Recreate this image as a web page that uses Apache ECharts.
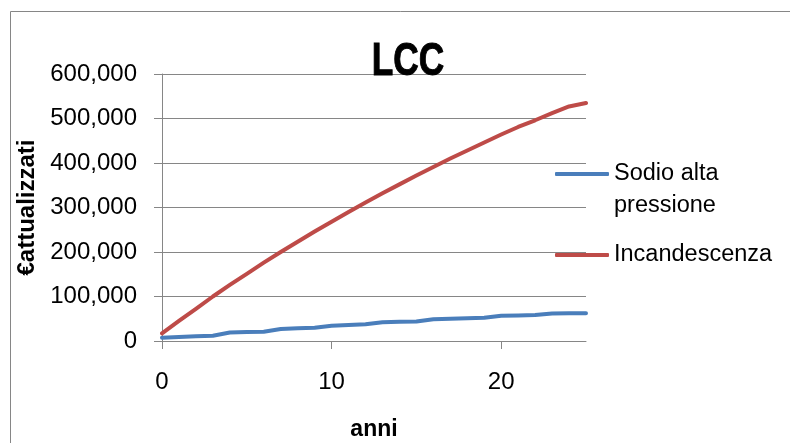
<!DOCTYPE html>
<html>
<head>
<meta charset="utf-8">
<script src="https://cdn.jsdelivr.net/npm/echarts@6/dist/echarts.min.js"></script>
<style>
  html, body { margin: 0; padding: 0; background: #fff; }
  #chart { width: 790px; height: 443px; }
</style>
</head>
<body>
<div id="chart"></div>
<script>
// anni 0..25
const years = [0, 1, 2, 3, 4, 5, 6, 7, 8, 9, 10, 11, 12, 13, 14, 15, 16, 17, 18, 19, 20, 21, 22, 23, 24, 25];

// € attualizzati
const sodio = [7500, 9000, 10500, 12000, 19000, 20000, 21000, 27000, 28500, 30000, 34500, 36000, 37500,
  42000, 43000, 44000, 49000, 50000, 51000, 52000, 56500, 57500, 58500, 62000, 62300, 62500];
const incandescenza = [17000, 45000, 72000, 100000, 126000, 151000, 176000, 200000, 223000, 246000, 268000,
  290000, 311000, 332000, 352000, 372000, 391000, 410000, 428000, 446000, 464000, 481000, 496000, 512000,
  527000, 535000];

const xTicks = [0, 10, 20];

const FONT = 'Liberation Sans, Arial, sans-serif';
const GRID_COLOR = '#868686';

const chart = echarts.init(document.getElementById('chart'));

function pairs(ys) {
  return years.map((x, i) => [x, ys[i]]);
}

chart.setOption({
  animation: false,
  backgroundColor: '#fff',
  textStyle: { fontFamily: FONT },
  graphic: [
    {
      type: 'rect',
      shape: { x: 10.5, y: 11.5, width: 900, height: 600 },
      style: { fill: 'none', stroke: GRID_COLOR, lineWidth: 1 },
      silent: true
    },
    {
      type: 'text',
      x: 408,
      y: 62,
      scaleX: 0.75,
      z: 10,
      style: {
        text: 'LCC',
        font: 'bold 47px ' + FONT,
        fill: '#000',
        stroke: '#000',
        lineWidth: 1,
        textAlign: 'center',
        textVerticalAlign: 'middle'
      }
    }
  ],
  legend: [
    {
      data: ['Sodio alta pressione'],
      left: 555,
      top: 126,
      padding: 0,
      icon: 'roundRect',
      itemWidth: 54,
      itemHeight: 4,
      itemGap: 0,
      // blank first line keeps the icon level with "Sodio alta"
      formatter: () => '\nSodio alta\npressione',
      textStyle: {
        fontSize: 23.5,
        color: '#000',
        lineHeight: 32
      }
    },
    {
      data: ['Incandescenza'],
      left: 555,
      top: 243,
      padding: 0,
      icon: 'roundRect',
      itemWidth: 54,
      itemHeight: 4,
      textStyle: {
        fontSize: 23.5,
        color: '#000',
        lineHeight: 24
      }
    }
  ],
  grid: {
    left: 162,
    top: 74,
    right: 204,
    bottom: 102,
    containLabel: false,
    outerBoundsMode: 'none'
  },
  xAxis: {
    type: 'value',
    min: 0,
    max: 25,
    interval: 10,
    name: 'anni',
    nameLocation: 'middle',
    nameGap: 77,
    nameTextStyle: { fontSize: 23, fontWeight: 'bold', color: '#000' },
    axisLine: { lineStyle: { color: GRID_COLOR, width: 1 } },
    axisTick: {
      show: true,
      length: 8,
      customValues: xTicks,
      lineStyle: { color: GRID_COLOR }
    },
    axisLabel: {
      fontSize: 24,
      color: '#000',
      margin: 29,
      customValues: xTicks
    },
    splitLine: { show: false }
  },
  yAxis: {
    type: 'value',
    min: 0,
    max: 600000,
    interval: 100000,
    name: '€attualizzati',
    nameLocation: 'middle',
    nameGap: 114,
    nameRotate: 90,
    nameTextStyle: { fontSize: 24, fontWeight: 'bold', color: '#000' },
    axisLine: { show: true, lineStyle: { color: GRID_COLOR, width: 1 } },
    axisTick: { show: true, length: 8, lineStyle: { color: GRID_COLOR } },
    axisLabel: {
      fontSize: 24,
      color: '#000',
      margin: 25,
      formatter: v => v.toLocaleString('en-US')
    },
    splitLine: { show: true, lineStyle: { color: GRID_COLOR, width: 1 } }
  },
  series: [
    {
      name: 'Sodio alta pressione',
      type: 'line',
      data: pairs(sodio),
      symbol: 'none',
      color: '#4A7EBB',
      lineStyle: { width: 4, cap: 'round', join: 'round' }
    },
    {
      name: 'Incandescenza',
      type: 'line',
      data: pairs(incandescenza),
      symbol: 'none',
      color: '#BE4B48',
      lineStyle: { width: 4, cap: 'round', join: 'round' }
    }
  ]
});
</script>
</body>
</html>
